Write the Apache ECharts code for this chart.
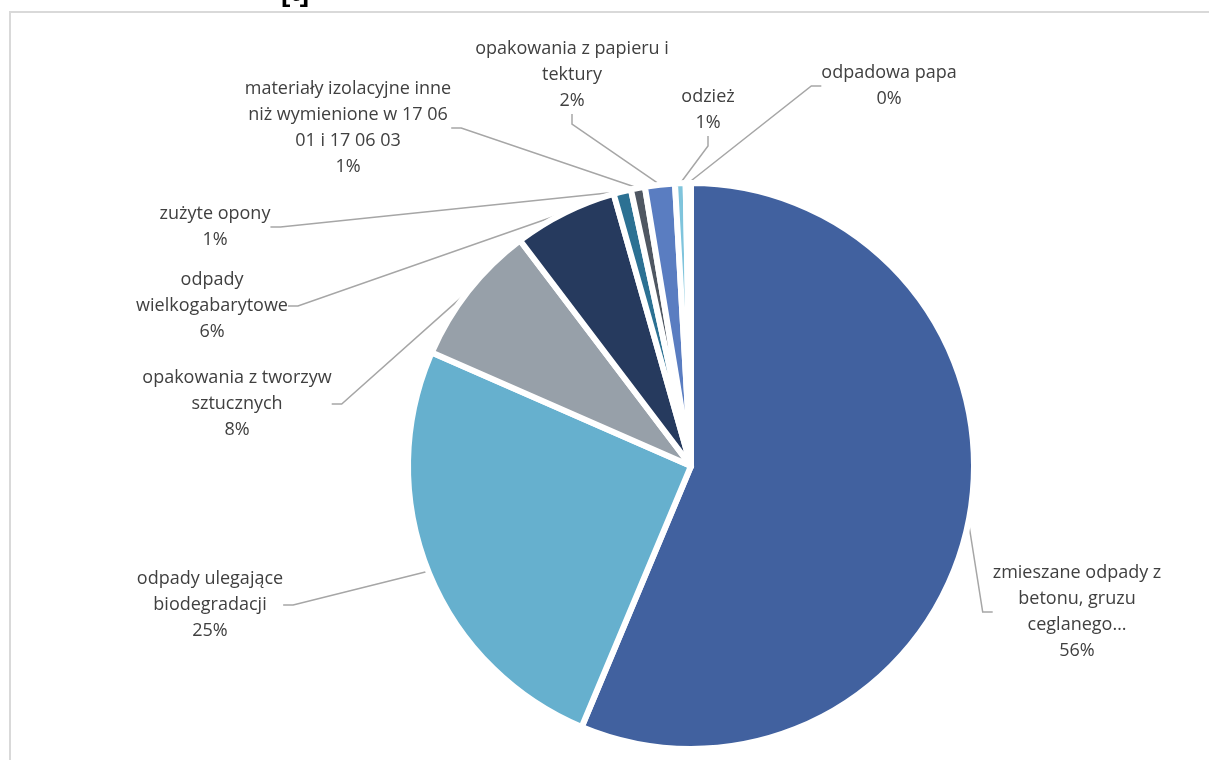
<!DOCTYPE html>
<html>
<head>
<meta charset="utf-8">
<script src="https://cdn.jsdelivr.net/npm/echarts@6/dist/echarts.min.js"></script>
<style>
html,body{margin:0;padding:0;background:#fff;}
#chart{width:1209px;height:760px;}
</style>
</head>
<body>
<div id="chart"></div>
<script>
// ---- data ----
var categories = [
  'zmieszane odpady z\nbetonu, gruzu\nceglanego…',
  'odpady ulegające\nbiodegradacji',
  'opakowania z tworzyw\nsztucznych',
  'odpady\nwielkogabarytowe',
  'zużyte opony',
  'materiały izolacyjne inne\nniż wymienione w 17 06\n01 i 17 06 03',
  'opakowania z papieru i\ntektury',
  'odzież',
  'odpadowa papa'
];
var values = [56.2, 25.2, 8.1, 5.9, 1.0, 0.8, 1.7, 0.6, 0.3];

// ---- styles / layout ----
var colors = ['#41619F', '#66B0CE', '#97A0A9', '#263A5E', '#2C7193', '#4F5762', '#5A7DC1', '#7FC4DC', '#C9D4E8'];
var labelPos = [
  [1077, 612], [210, 605], [237, 404], [212, 306], [215, 227],
  [348, 128], [572, 75], [708, 110], [889, 86]
];

var chart = echarts.init(document.getElementById('chart'), null, {renderer: 'canvas'});

var data = categories.map(function (c, i) {
  return {name: c, value: values[i], itemStyle: {color: colors[i]}};
});

chart.setOption({
  animation: false,
  backgroundColor: '#ffffff',
  graphic: [
    {type: 'rect', shape: {x: 10, y: 12, width: 1300, height: 800},
     style: {fill: 'none', stroke: '#d9d9d9', lineWidth: 2}},
    {type: 'text', left: 281, top: -21,
     style: {text: '[t]', font: 'bold 28px "Liberation Sans"', fill: '#000'}}
  ],
  series: [{
    type: 'pie',
    center: [691, 466],
    radius: ['0%', 283],
    startAngle: 90,
    clockwise: true,
    percentPrecision: 0,
    data: data,
    itemStyle: {borderColor: '#ffffff', borderWidth: 6},
    label: {
      show: true,
      formatter: '{b}\n{d}%',
      color: '#404040',
      fontFamily: 'Open Sans',
      fontSize: 18,
      lineHeight: 26,
      align: 'center'
    },
    labelLine: {
      show: true,
      length: 20,
      length2: 10,
      lineStyle: {color: '#a6a6a6', width: 1.5}
    },
    labelLayout: function (p) {
      var pos = labelPos[p.dataIndex];
      return {x: pos[0], y: pos[1], align: 'center', verticalAlign: 'middle'};
    },
    emphasis: {disabled: true}
  }]
});
</script>
</body>
</html>
